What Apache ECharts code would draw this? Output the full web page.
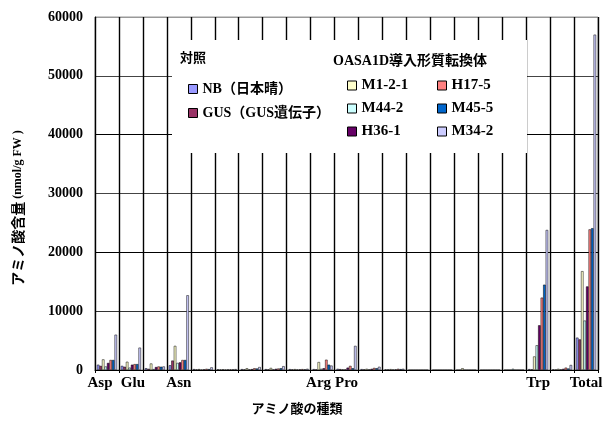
<!DOCTYPE html>
<html>
<head>
<meta charset="utf-8">
<script src="https://cdn.jsdelivr.net/npm/echarts@6/dist/echarts.min.js"></script>
<style>
html,body{margin:0;padding:0;background:#fff;}
#chart{width:609px;height:427px;}
</style>
</head>
<body>
<div id="chart"></div>
<script>
// ---- data ----
const categories = ['Asp','Glu','','Asn','','','','','','Arg','Pro','','','','','','','','Trp','','Total'];
const yTicks = [0, 10000, 20000, 30000, 40000, 50000, 60000];
const seriesNames = ['NB（日本晴）','GUS（GUS遺伝子）','M1-2-1','M44-2','H36-1','H17-5','M45-5','M34-2'];
const NB   = [900, 700, 300, 800, 150, 100, 150, 150, 150, 150, 200, 150, 100, 0, 0, 0, 0, 0, 150, 100, 5500];
const GUS  = [700, 550, 200, 1600, 100, 80, 100, 100, 100, 100, 150, 100, 80, 0, 0, 0, 0, 0, 100, 50, 5200];
const M121 = [1800, 1400, 1100, 4100, 150, 100, 300, 350, 150, 1350, 100, 200, 150, 0, 0, 300, 0, 0, 2300, 200, 16800];
const M442 = [600, 400, 150, 1200, 50, 50, 100, 100, 80, 200, 100, 100, 50, 0, 0, 0, 0, 200, 4200, 100, 8400];
const H361 = [1200, 900, 500, 1300, 100, 80, 150, 200, 100, 300, 400, 200, 100, 0, 0, 0, 0, 0, 7600, 200, 14200];
const H175 = [1700, 1000, 600, 1700, 200, 100, 300, 250, 150, 1750, 700, 350, 200, 0, 0, 0, 0, 0, 12300, 400, 23900];
const M455 = [1700, 1000, 550, 1700, 150, 80, 250, 300, 100, 900, 300, 300, 150, 0, 0, 0, 0, 0, 14500, 250, 24100];
const M342 = [6000, 3800, 600, 12700, 450, 150, 500, 650, 200, 750, 4100, 550, 200, 0, 0, 0, 0, 0, 23800, 850, 57000];
const values = [NB, GUS, M121, M442, H361, H175, M455, M342];
const colors = ['#9999FF','#993366','#FFFFCC','#CCFFFF','#660066','#FF8080','#0066CC','#CCCCFF'];

const SERIF = '"Liberation Serif","Noto Sans CJK JP"';
const chart = echarts.init(document.getElementById('chart'), null, {renderer:'canvas'});

const legendText = {fontFamily: SERIF, fontWeight:'bold', fontSize:15, color:'#000', lineHeight:15};
function mkLegend(names, left, top, gap, fs){
  return {
    data: names, orient:'vertical', left:left, top:top, itemGap:gap,
    itemWidth:9, itemHeight:9, icon:'rect', selectedMode:false, z:20,
    itemStyle:{borderColor:'#000', borderWidth:1},
    textStyle: Object.assign({}, legendText, {fontSize:fs, lineHeight:fs}),
    padding:0
  };
}
const lblBase = {fontFamily:SERIF, fontWeight:'bold', fontSize:15, color:'#000'};
const richLbl = {
  l7: Object.assign({}, lblBase, {padding:[0,14,0,0]}),
  l4: Object.assign({}, lblBase, {padding:[0,8,0,0]}),
  r2: Object.assign({}, lblBase, {padding:[0,0,0,4]}),
  n: lblBase
};
const lblStyle = {Asp:'l7', Arg:'l4', Glu:'r2'};

chart.setOption({
  animation:false,
  backgroundColor:'#fff',
  color: colors,
  grid:{left:95, right:11, top:17, bottom:57, show:true, borderColor:'#999', borderWidth:1},
  legend:[
    mkLegend([seriesNames[0], seriesNames[1]], 188, 82, 10, 14),
    mkLegend([seriesNames[2], seriesNames[3], seriesNames[4]], 347, 78, 8, 15),
    mkLegend([seriesNames[5], seriesNames[6], seriesNames[7]], 437, 78, 8, 15)
  ],
  graphic:[
    {type:'rect', z:10, shape:{x:172, y:40, width:355, height:113}, style:{fill:'#fff'}},
    {type:'text', z:21, x:180, y:57, style:{text:'対照', font:'bold 13px "Noto Sans CJK JP"', fill:'#000', textVerticalAlign:'middle'}},
    {type:'text', z:21, x:333, y:61, style:{text:'OASA1D導入形質転換体', font:'bold 14px ' + SERIF, fill:'#000', textVerticalAlign:'middle'}},
    {type:'text', z:21, x:18, y:208, rotation:Math.PI/2,
      style:{text:'{a|アミノ酸含量}{b| (nmol/g FW )}', align:'center', verticalAlign:'middle',
        rich:{a:{fontFamily:'"Noto Sans CJK JP"', fontWeight:'bold', fontSize:14, fill:'#000'},
              b:{fontFamily:SERIF, fontWeight:'bold', fontSize:12, fill:'#000'}}}},
    {type:'text', z:21, x:297, y:408,
      style:{text:'アミノ酸の種類', font:'bold 13px "Noto Sans CJK JP"', fill:'#000', align:'center', verticalAlign:'middle'}}
  ],
  xAxis:{
    type:'category', data:categories, boundaryGap:true,
    axisLine:{show:true, lineStyle:{color:'#000', width:1}},
    axisTick:{show:true, interval:0, length:3, lineStyle:{color:'#000'}},
    splitLine:{show:true, interval:0, lineStyle:{color:'#000', width:1.4}},
    axisLabel:{interval:0, margin:6, rich:richLbl,
      formatter:(v)=> v ? '{' + (lblStyle[v] || 'n') + '|' + v + '}' : ''}
  },
  yAxis:{
    type:'value', min:yTicks[0], max:yTicks[yTicks.length-1], interval:yTicks[1]-yTicks[0],
    axisLine:{show:true, lineStyle:{color:'#000', width:1}},
    axisTick:{show:false},
    splitLine:{show:true, lineStyle:{color:['#000','#333','#000','#444','#000','#444','#999'], width:1}},
    axisLabel:{margin:12, fontFamily:SERIF, fontWeight:'bold', fontSize:14, color:'#000',
      formatter:(v)=> String(v)}
  },
  series: values.map((v,i)=>({
    name: seriesNames[i], type:'bar', data:v, barGap:'0%', barCategoryGap:'16%',
    itemStyle:{color:colors[i], borderColor:'#000', borderWidth:0.5}
  }))
});
</script>
</body>
</html>
